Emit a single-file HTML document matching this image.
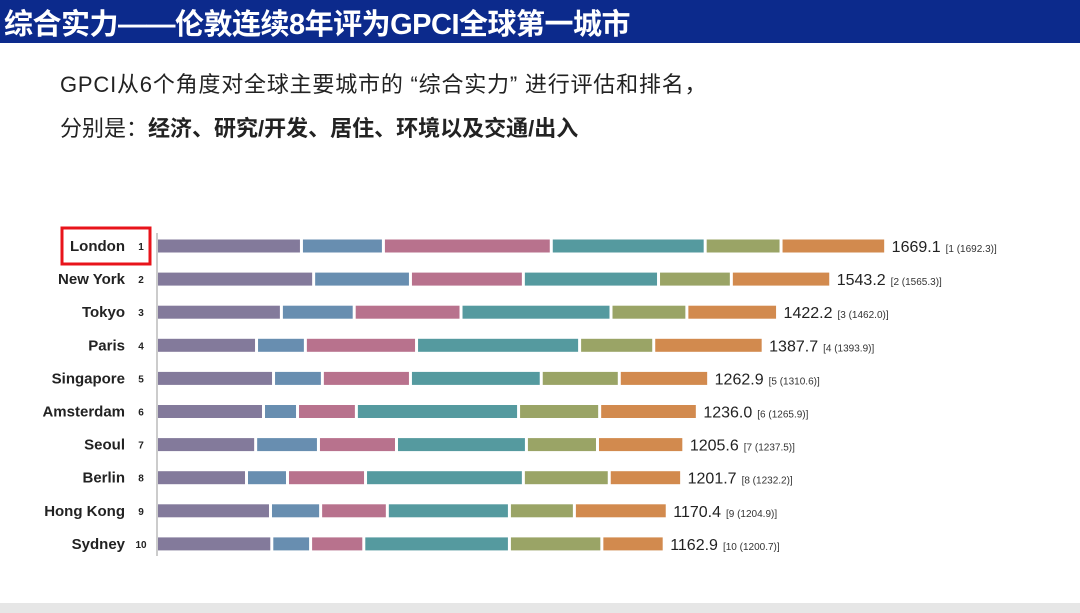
<!DOCTYPE html>
<html><head><meta charset="utf-8">
<style>
body{margin:0;width:1080px;height:613px;overflow:hidden;background:#fff;font-family:"Liberation Sans","Noto Sans CJK SC",sans-serif;position:relative}
#hdr{position:absolute;left:0;top:0;width:1080px;height:43px;background:#0c2a8c}
#title{position:absolute;left:4px;top:1px;color:#fff;font-size:29px;font-weight:bold;letter-spacing:-0.5px;white-space:nowrap}
.line{position:absolute;left:60px;font-size:22px;color:#222;white-space:nowrap}
#foot{position:absolute;left:0;top:603px;width:1080px;height:10px;background:#e6e6e6}
svg{position:absolute;left:0;top:0}
</style></head><body>
<div id="hdr"><div id="title">综合实力——伦敦连续8年评为GPCI全球第一城市</div></div>
<div class="line" style="top:67px;letter-spacing:0.8px">GPCI从6个角度对全球主要城市的 “综合实力” 进行评估和排名，</div>
<div class="line" style="top:111px">分别是：<b>经济、研究/开发、居住、环境以及交通/出入</b></div>
<div id="foot"></div>
<svg id="chart" width="1080" height="613"></svg>
<script>
const cities=["London","New York","Tokyo","Paris","Singapore","Amsterdam","Seoul","Berlin","Hong Kong","Sydney"];
const economy=[329,357,283,226,265,242,224,203,258,261];
const research=[188,222,167,112,112,78,144,94,115,89];
const livability=[385,259,245,255,202,135,179,179,153,122];
const environment=[353,310,344,374,300,372,298,362,280,334];
const culture=[174,167,174,170,179,186,163,197,149,212];
const accessibility=[240,228,208,251,205,224,198,166,213,143];
const totals=["1669.1","1543.2","1422.2","1387.7","1262.9","1236.0","1205.6","1201.7","1170.4","1162.9"];
const prev=["[1 (1692.3)]","[2 (1565.3)]","[3 (1462.0)]","[4 (1393.9)]","[5 (1310.6)]","[6 (1265.9)]","[7 (1237.5)]","[8 (1232.2)]","[9 (1204.9)]","[10 (1200.7)]"];
const series=[economy,research,livability,environment,culture,accessibility];
const seriesNames=["economy","research","livability","environment","culture","accessibility"];
const colors=["#837a9b","#688eb0","#b8728d","#559a9f","#9aa466","#d28a4e"];
const NS="http://www.w3.org/2000/svg";
const svg=document.getElementById('chart');
const x0=158,scale=0.436,y0=246,step=33.1,bh=13;
const xs=v=>x0+v*scale;
const ys=i=>y0+i*step;
function mk(t,a,parent){const e=document.createElementNS(NS,t);for(const k in a)e.setAttribute(k,a[k]);(parent||svg).appendChild(e);return e;}
const ax=mk('line',{x1:x0-1,y1:233,x2:x0-1,y2:556,stroke:'#999','stroke-width':1});


cities.forEach((c,i)=>{
  const y=ys(i);
  let acc=0;
  series.forEach((s,j)=>{
    const a=xs(acc),b=xs(acc+s[i]);
    const r=mk('rect',{x:a+(j?1.5:0),y:y-bh/2,width:Math.max(0,b-a-(j?3:1.5)),height:bh,fill:colors[j]});
    
    
    acc+=s[i];
  });
  const end=xs(acc);
  const t=mk('text',{x:125,y:y+5,'text-anchor':'end','font-size':15,'font-weight':'bold',fill:'#222'});
  t.textContent=c;
  
  
  const rk=mk('text',{x:141,y:y+4,'text-anchor':'middle','font-size':10,'font-weight':'bold',fill:'#222'});
  rk.textContent=String(i+1);
  
  
  const v=mk('text',{x:end+6,y:y+6,'font-size':16,fill:'#222'});
  
  
  const v1=mk('tspan',{},v);
  v1.textContent=totals[i];
  const p=mk('tspan',{dx:5,'font-size':10,fill:'#333'},v);
  p.textContent=prev[i];
  
  
});
const hl=mk('rect',{x:62,y:228,width:88,height:36,fill:'none',stroke:'#e8141b','stroke-width':3});


</script>
</body></html>
